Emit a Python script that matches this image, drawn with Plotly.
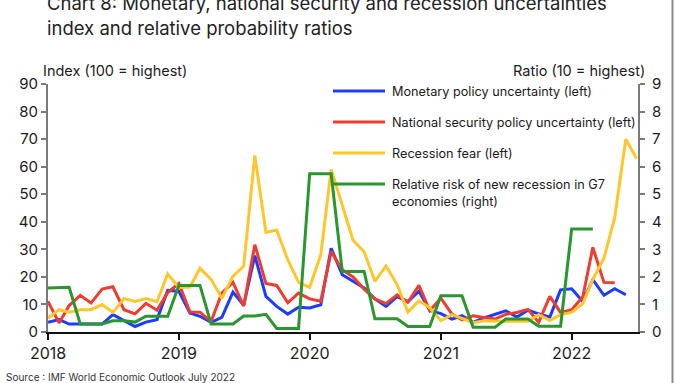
import pandas as pd
import plotly.graph_objects as go

# Monthly observations, Jan 2018 onwards
start_month = "2018-01-01"

monetary_policy = [
    3.5, 4.5, 2.9, 2.9, 2.9, 2.9, 6.3, 4.1, 2.0, 3.6, 4.5, 15.1,
    14.8, 6.9, 5.7, 3.5, 5.3, 14.5, 9.7, 27.7, 12.9, 9.3, 6.5, 9.0,
    8.7, 9.9, 30.4, 20.8, 18.5, 16.0, 12.0, 9.3, 12.8, 11.0, 14.8, 7.8,
    6.7, 4.7, 5.9, 3.5, 5.1, 6.5, 7.7, 5.4, 7.9, 6.6, 5.4, 15.3,
    15.7, 11.1, 19.0, 13.3, 15.7, 13.5,
]

national_security = [
    11.1, 3.3, 9.6, 13.3, 10.5, 15.6, 16.4, 8.1, 6.6, 10.4, 7.9, 14.3,
    17.6, 7.3, 7.2, 3.8, 14.1, 18.0, 9.4, 31.7, 17.6, 16.9, 10.6, 14.1,
    12.0, 11.2, 29.2, 22.6, 20.0, 15.5, 12.0, 10.3, 13.5, 10.8, 16.9, 7.7,
    12.3, 6.5, 4.4, 5.9, 5.3, 4.7, 6.4, 7.1, 8.2, 3.5, 12.9, 7.1,
    8.1, 12.8, 30.7, 18.0, 17.9,
]

recession_fear = [
    5.0, 8.1, 7.2, 8.1, 8.1, 10.0, 7.1, 12.1, 11.1, 12.1, 11.0, 21.1,
    16.2, 16.3, 23.1, 19.1, 12.2, 20.2, 23.9, 64.1, 36.1, 37.0, 26.2, 18.0,
    16.2, 28.0, 59.0, 45.5, 33.3, 29.1, 18.4, 24.0, 17.2, 7.2, 11.3, 8.8,
    4.1, 6.3, 4.9, 3.4, 4.1, 3.9, 3.9, 3.9, 3.9, 6.3, 4.2, 6.3,
    7.1, 10.3, 19.0, 26.8, 41.5, 70.0, 63.0,
]

g7_recession_risk = [
    1.60, 1.60, 1.62, 0.29, 0.29, 0.29, 0.41, 0.41, 0.36, 0.57, 0.57, 0.57,
    1.69, 1.69, 1.69, 0.29, 0.29, 0.29, 0.58, 0.58, 0.64, 0.13, 0.13, 0.13,
    5.74, 5.74, 5.74, 2.20, 2.20, 2.20, 0.48, 0.48, 0.48, 0.20, 0.20, 0.20,
    1.32, 1.32, 1.32, 0.17, 0.17, 0.17, 0.47, 0.47, 0.47, 0.21, 0.21, 0.21,
    3.74, 3.74, 3.74,
]

series_names = [
    "Monetary policy uncertainty (left)",
    "National security policy uncertainty (left)",
    "Recession fear (left)",
    "Relative risk of new recession in G7<br>economies (right)",
]
series_colors = ["#1e3cff", "#f03c2f", "#ffc62b", "#2a962f"]

left_ticks = list(range(0, 100, 10))
right_ticks = list(range(0, 10))


def months(values):
    return pd.date_range(start_month, periods=len(values), freq="MS")


FONT = "Inter, Roboto, sans-serif"
TEXT = "#1b1b1b"
W, H = 675, 383
ML, MR, MT, MB = 48, 37, 84, 51
PW, PH = W - ML - MR, H - MT - MB


def px(x):
    return (x - ML) / PW


def py(y):
    return (H - MB - y) / PH


fig = go.Figure()
left_series = [monetary_policy, national_security, recession_fear]
for vals, name, color in zip(left_series, series_names[:3], series_colors[:3]):
    fig.add_trace(go.Scatter(
        x=months(vals), y=vals, name=name, mode="lines",
        line=dict(color=color, width=3), yaxis="y",
    ))
fig.add_trace(go.Scatter(
    x=months(g7_recession_risk), y=g7_recession_risk, name=series_names[3],
    mode="lines", line=dict(color=series_colors[3], width=3), yaxis="y2",
))

axis_grey = "#7a7a7a"
fig.update_layout(
    width=W, height=H,
    margin=dict(l=ML, r=MR, t=MT, b=MB),
    paper_bgcolor="white", plot_bgcolor="white",
    showlegend=False,
    font=dict(family=FONT, color=TEXT),
    xaxis=dict(
        type="date", range=["2018-01-01", "2022-07-05"],
        tickformat="%Y", dtick="M12", tick0="2018-01-01",
        showgrid=False, zeroline=False,
        showline=True, linecolor="#111", linewidth=1.5,
        ticks="outside", ticklen=6, tickcolor="#111", tickwidth=1.5,
        tickfont=dict(size=16, color=TEXT, family=FONT),
    ),
    yaxis=dict(
        range=[0, 90], tickvals=left_ticks,
        showgrid=False, zeroline=False,
        showline=True, linecolor=axis_grey, linewidth=2,
        ticks="outside", ticklen=5, tickcolor=axis_grey, tickwidth=1.5,
        tickfont=dict(size=15, color=TEXT, family=FONT),
    ),
    yaxis2=dict(
        range=[0, 9], tickvals=right_ticks, overlaying="y", side="right",
        showgrid=False, zeroline=False,
        showline=True, linecolor=axis_grey, linewidth=2,
        ticks="outside", ticklen=5, tickcolor=axis_grey, tickwidth=1.5,
        ticklabelstandoff=4,
        tickfont=dict(size=15, color=TEXT, family=FONT),
    ),
)

annotations = [
    dict(text="Chart 8: Monetary, national security and recession uncertainties",
         x=px(45), y=py(3), xanchor="left", yanchor="middle",
         font=dict(size=18.5, color="#222")),
    dict(text="index and relative probability ratios",
         x=px(45), y=py(28), xanchor="left", yanchor="middle",
         font=dict(size=18.5, color="#222")),
    dict(text="Index (100 = highest)", x=px(41), y=py(71),
         xanchor="left", yanchor="middle", font=dict(size=14.5, color=TEXT)),
    dict(text="Ratio (10 = highest)", x=px(647), y=py(71),
         xanchor="right", yanchor="middle", font=dict(size=14.5, color=TEXT)),
    dict(text="Source : IMF World Economic Outlook July 2022", x=px(4), y=py(377),
         xanchor="left", yanchor="middle", font=dict(size=10, color="#333")),
]

# Legend: coloured swatch line followed by its label
legend_rows = [91, 122, 153, 184]
shapes = []
for row_y, name, color in zip(legend_rows, series_names, series_colors):
    shapes.append(dict(type="line", xref="paper", yref="paper",
                       x0=px(333), x1=px(385), y0=py(row_y), y1=py(row_y),
                       line=dict(color=color, width=3)))
    two_lines = "<br>" in name
    annotations.append(dict(
        text=name, x=px(390), y=py(row_y - 9) if two_lines else py(row_y),
        xanchor="left", yanchor="top" if two_lines else "middle",
        align="left", font=dict(size=12.7, color=TEXT),
    ))

# Frame line down the right-hand side of the panel
shapes.append(dict(type="line", xref="paper", yref="paper",
                   x0=px(672.5), x1=px(672.5), y0=py(0), y1=py(H),
                   line=dict(color="#8a8a8a", width=2)))

for a in annotations:
    a.setdefault("xref", "paper")
    a.setdefault("yref", "paper")
    a.setdefault("showarrow", False)

fig.update_layout(annotations=annotations, shapes=shapes)
fig.write_html("out.html")
